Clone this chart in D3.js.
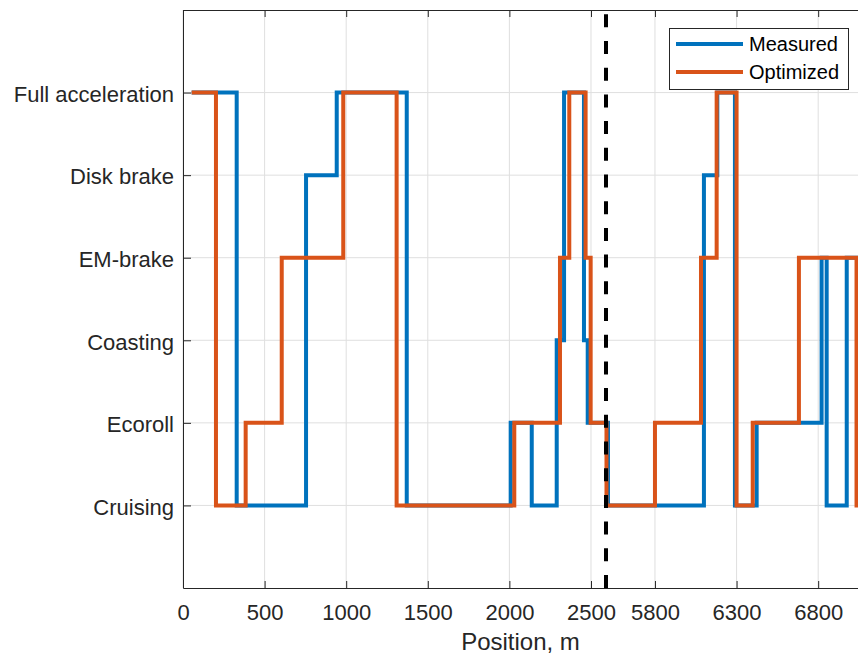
<!DOCTYPE html>
<html>
<head>
<meta charset="utf-8">
<script src="https://cdn.jsdelivr.net/npm/d3@7"></script>
<style>
  body { margin: 0; background: #fff; }
  svg { display: block; font-family: "Liberation Sans", Arial, sans-serif; }
</style>
</head>
<body>
<div id="chart"></div>
<script>
// driving modes, bottom to top
const modes = ['Cruising', 'Ecoroll', 'Coasting', 'EM-brake', 'Disk brake', 'Full acceleration']

// stairs: mode holds from position until the next position (m)
const measuredPos = [53, 329, 754, 942, 1371, 2008, 2137, 2290, 2335, 2457, 2480, 5512, 6100, 6182, 6290, 6423, 6821, 6852, 6975, 7044]
const measuredMode = [5, 0, 4, 5, 0, 1, 0, 2, 5, 2, 1, 0, 4, 5, 0, 1, 3, 0, 3, 3]

const optimizedPos = [53, 202, 384, 605, 982, 1309, 2030, 2310, 2367, 2467, 2498, 5503, 5800, 6082, 6178, 6300, 6399, 6682, 7035, 7044]
const optimizedMode = [5, 0, 1, 3, 5, 0, 1, 3, 5, 3, 1, 0, 1, 3, 5, 0, 1, 3, 0, 0]

// x axis is broken between these two positions
const breakFrom = 2592
const breakTo = 5500
const xTicks = [0, 500, 1000, 1500, 2000, 2500, 5800, 6300, 6800]

const width = 858
const height = 660
const margin = { top: 10, right: 0, bottom: 72, left: 183 }
const innerBottom = height - margin.bottom
const ink = '#262626'

const svg = d3.select('#chart')
  .append('svg')
  .attr('width', width)
  .attr('height', height)

svg.append('rect').attr('width', width).attr('height', height).attr('fill', '#fff')

const x = d3.scaleLinear()
  .domain([0, breakFrom, breakTo, 7044])
  .range([margin.left, 606, 606, width])

const y = d3.scaleLinear()
  .domain([-1, 6])
  .range([innerBottom, margin.top])

// grid
svg.append('g')
  .selectAll('line')
  .data(xTicks)
  .join('line')
  .attr('x1', d => x(d)).attr('x2', d => x(d))
  .attr('y1', margin.top).attr('y2', innerBottom)
  .attr('stroke', '#dfdfdf')
  .attr('stroke-width', 1)

svg.append('g')
  .selectAll('line')
  .data(d3.range(modes.length))
  .join('line')
  .attr('x1', margin.left).attr('x2', width)
  .attr('y1', d => y(d)).attr('y2', d => y(d))
  .attr('stroke', '#dfdfdf')
  .attr('stroke-width', 1)

// series
const line = d3.line()
  .x(d => x(d[0]))
  .y(d => y(d[1]))
  .curve(d3.curveStepAfter)

const series = [
  { name: 'Measured', color: '#0072BD', pos: measuredPos, mode: measuredMode },
  { name: 'Optimized', color: '#D95319', pos: optimizedPos, mode: optimizedMode }
]

series.forEach(s => {
  svg.append('path')
    .datum(s.pos.map((p, i) => [p, s.mode[i]]))
    .attr('fill', 'none')
    .attr('stroke', s.color)
    .attr('stroke-width', 4)
    .attr('d', line)
})

// break marker
svg.append('line')
  .attr('x1', x(breakFrom)).attr('x2', x(breakFrom))
  .attr('y1', innerBottom).attr('y2', margin.top)
  .attr('stroke', '#000')
  .attr('stroke-width', 4)
  .attr('stroke-dasharray', '13,13.7')

// axes
const xAxis = svg.append('g')
  .attr('transform', 'translate(0,' + innerBottom + ')')
  .call(d3.axisBottom(x).tickValues(xTicks).tickFormat(d3.format('d')).tickSize(-7).tickPadding(16))

const yAxis = svg.append('g')
  .attr('transform', 'translate(' + margin.left + ',0)')
  .call(d3.axisLeft(y).tickValues(d3.range(modes.length)).tickFormat(i => modes[i]).tickSize(-8).tickPadding(9))

svg.append('g')
  .attr('transform', 'translate(0,' + margin.top + ')')
  .call(d3.axisTop(x).tickValues(xTicks).tickFormat('').tickSize(-7))

;[xAxis, yAxis].forEach(g => {
  g.selectAll('text').attr('fill', ink).style('font-size', '22px')
})
yAxis.selectAll('text').attr('dy', '0.4em')
svg.selectAll('.domain').remove()
svg.selectAll('.tick line').attr('stroke', ink)

// box
svg.append('path')
  .attr('d', 'M' + width + ',' + (margin.top + 0.5) + 'H' + (margin.left + 0.5) + 'V' + (innerBottom + 0.5) + 'H' + width)
  .attr('fill', 'none')
  .attr('stroke', ink)
  .attr('stroke-width', 1)

svg.append('text')
  .attr('x', (margin.left + width) / 2)
  .attr('y', 650)
  .attr('text-anchor', 'middle')
  .attr('fill', ink)
  .style('font-size', '24px')
  .text('Position, m')

// legend
const legend = svg.append('g')
legend.append('rect')
  .attr('x', 669.5).attr('y', 28.5)
  .attr('width', 179).attr('height', 61)
  .attr('fill', '#fff')
  .attr('stroke', ink)
  .attr('stroke-width', 1)

series.forEach((s, i) => {
  const ly = 44 + i * 28
  legend.append('line')
    .attr('x1', 676).attr('x2', 743)
    .attr('y1', ly).attr('y2', ly)
    .attr('stroke', s.color)
    .attr('stroke-width', 4)
  legend.append('text')
    .attr('x', 749)
    .attr('y', ly)
    .attr('dy', '0.36em')
    .attr('fill', '#000')
    .style('font-size', '20px')
    .text(s.name)
})
</script>
</body>
</html>
